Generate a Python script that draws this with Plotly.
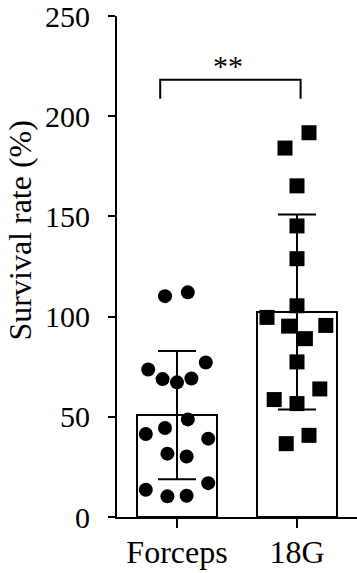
import plotly.graph_objects as go

categories = ["Forceps", "18G"]
cat_pos = [0, 1]
means = [50.8, 102.3]
sds = [32.0, 48.7]

forceps_x = [-0.10, 0.09, -0.24, -0.12, 0.0, 0.12, 0.24, 0.09, -0.10, -0.26, 0.26, -0.08, 0.08, 0.26, -0.26, -0.08, 0.08]
forceps_y = [110.2, 112.1, 73.6, 68.8, 67.2, 69.1, 77.1, 48.7, 44.4, 41.4, 39.1, 31.6, 30.2, 16.9, 13.6, 10.3, 10.6]

g18_x = [1.10, 0.90, 1.0, 1.0, 1.0, 1.0, 0.75, 0.93, 1.24, 1.07, 1.0, 1.19, 0.81, 1.0, 1.10, 0.91]
g18_y = [191.75, 184.1, 165.25, 145.25, 128.9, 105.4, 99.6, 95.25, 95.6, 89.0, 77.4, 63.9, 58.6, 56.6, 40.75, 36.6]

y_ticks = [0, 50, 100, 150, 200, 250]
y_title = "Survival rate (%)"
sig_label = "**"
sig_x = [-0.14, 1.03]
sig_y = [208.75, 218.25]

FONT = "Liberation Serif, Times New Roman, serif"

fig = go.Figure()
fig.add_trace(go.Bar(
    x=cat_pos, y=means, width=0.667,
    marker=dict(color="white", line=dict(color="black", width=2)),
    error_y=dict(type="data", array=sds, visible=True, color="black", thickness=2, width=19),
    showlegend=False,
))
fig.add_trace(go.Scatter(
    x=forceps_x, y=forceps_y, mode="markers",
    marker=dict(symbol="circle", size=14, color="black"), showlegend=False,
))
fig.add_trace(go.Scatter(
    x=g18_x, y=g18_y, mode="markers",
    marker=dict(symbol="square", size=15, color="black"), showlegend=False,
))
# significance bracket
fig.add_trace(go.Scatter(
    x=[sig_x[0], sig_x[0], sig_x[1], sig_x[1]],
    y=[sig_y[0], sig_y[1], sig_y[1], sig_y[0]],
    mode="lines", line=dict(color="black", width=2), showlegend=False, hoverinfo="skip",
))
fig.add_annotation(
    x=(sig_x[0] + sig_x[1]) / 2 - 0.02, y=sig_y[1], text=sig_label, showarrow=False,
    yanchor="bottom", yshift=-4, font=dict(family=FONT, size=30, color="black"),
)
# y-axis title
fig.add_annotation(
    xref="paper", yref="paper", x=-117 / 240 + 20 / 240, y=(516 - 230) / 500,
    text=y_title, textangle=-90, showarrow=False, xanchor="center", yanchor="middle",
    font=dict(family=FONT, size=32, color="black"),
)

fig.update_layout(
    width=357, height=573,
    margin=dict(l=117, r=0, t=16, b=56),
    paper_bgcolor="white", plot_bgcolor="white",
    font=dict(family=FONT, color="black"),
    bargap=0,
)
fig.update_xaxes(
    range=[-0.5, 1.5], tickvals=cat_pos, ticktext=categories,
    showgrid=False, zeroline=False, showline=True, linecolor="black", linewidth=2,
    ticks="outside", ticklen=9, tickwidth=2, tickcolor="black", ticklabelstandoff=-3,
    tickfont=dict(family=FONT, size=32, color="black"),
)
fig.update_yaxes(
    range=[0, 250], tickvals=y_ticks, ticklabeloverflow="allow",
    showgrid=False, zeroline=False, showline=True, linecolor="black", linewidth=2,
    ticks="outside", ticklen=7, tickwidth=2, tickcolor="black", ticklabelstandoff=12,
    tickfont=dict(family=FONT, size=30, color="black"),
)
fig.write_html("out.html")
